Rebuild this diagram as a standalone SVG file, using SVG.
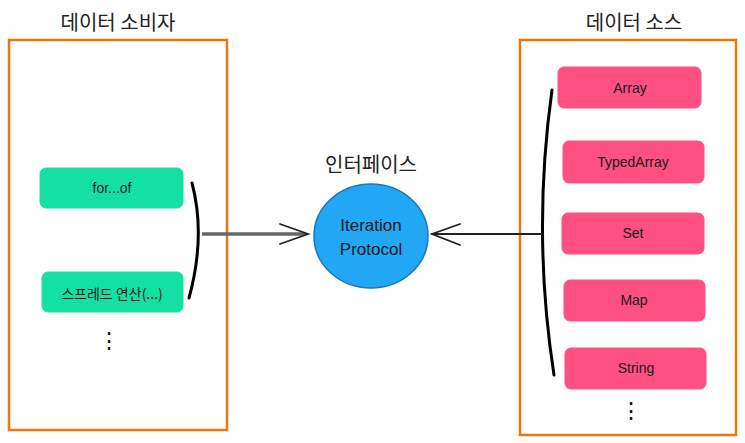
<svg xmlns="http://www.w3.org/2000/svg" width="745" height="443" viewBox="0 0 745 443">
<style>
.title{font-family:"Noto Sans CJK KR","Liberation Sans",sans-serif;font-size:20px;fill:#222;text-anchor:middle}
.lbl{font-family:"Liberation Sans","Noto Sans CJK KR",sans-serif;font-size:14px;fill:#1a1a1a;text-anchor:middle;dominant-baseline:central}
.klbl{font-family:"Noto Sans CJK KR","Liberation Sans",sans-serif;font-size:14px;fill:#1a1a1a;text-anchor:middle;dominant-baseline:central}
.cont{fill:#fff;stroke:#e8790a;stroke-width:2.5}
.green{fill:#15e0a3;stroke:#15e0a3;stroke-width:1}
.pink{fill:#fe5083;stroke:#fe5083;stroke-width:1}
.dots{font-family:"Liberation Sans",sans-serif;font-size:22px;fill:#111;text-anchor:middle}
.brk{fill:none;stroke:#000;stroke-width:3;stroke-linecap:round}
.ln{fill:none;stroke:#222;stroke-width:1.8;stroke-linecap:round}
.gray{fill:none;stroke:#666;stroke-width:3.5}
</style>
<g id="consumer">
<rect class="cont" x="9" y="40" width="218" height="390"/>
<text class="title" x="118" y="30">데이터 소비자</text>
</g>
<g id="source">
<rect class="cont" x="520" y="40" width="216" height="395"/>
<text class="title" x="634" y="30">데이터 소스</text>
</g>
<g id="forof">
<rect class="green" x="40" y="168" width="143" height="40" rx="6"/>
<text class="lbl" x="112" y="188">for...of</text>
</g>
<g id="spread">
<rect class="green" x="42" y="272" width="141" height="40" rx="6"/>
<text class="klbl" x="112" y="293">스프레드 연산(...)</text>
</g>
<g id="consumer-more">
<text class="dots" x="109" y="348">⋮</text>
</g>
<g id="interface">
<text class="title" x="371" y="172">인터페이스</text>
<ellipse cx="371" cy="236" rx="57" ry="52" fill="#22a7f5" stroke="#1a73c0" stroke-width="1.5"/>
<text class="lbl" x="371" y="225" style="font-size:17px">Iteration</text>
<text class="lbl" x="371" y="249" style="font-size:17px">Protocol</text>
</g>
<g id="array">
<rect class="pink" x="558" y="67" width="143" height="41" rx="6"/>
<text class="lbl" x="630" y="88">Array</text>
</g>
<g id="typedarray">
<rect class="pink" x="563" y="141" width="141" height="42" rx="6"/>
<text class="lbl" x="633" y="162">TypedArray</text>
</g>
<g id="set">
<rect class="pink" x="562" y="213" width="142" height="41" rx="6"/>
<text class="lbl" x="633" y="233">Set</text>
</g>
<g id="map">
<rect class="pink" x="564" y="280" width="141" height="41" rx="6"/>
<text class="lbl" x="634" y="300">Map</text>
</g>
<g id="string">
<rect class="pink" x="565" y="348" width="141" height="41" rx="6"/>
<text class="lbl" x="636" y="368">String</text>
</g>
<g id="source-more">
<text class="dots" x="631" y="418">⋮</text>
</g>
<g id="connectors">
<path class="brk" d="M192 183 Q206 236 189 298"/>
<path class="gray" d="M202 234 L306 234"/>
<path class="ln" d="M280 224 L308 234 L280 244"/>
<path class="brk" d="M552 90 Q532 233 554 375"/>
<path class="ln" d="M541 234 L432 234"/>
<path class="ln" d="M460 224 L432 234 L460 245"/>
</g>
</svg>
